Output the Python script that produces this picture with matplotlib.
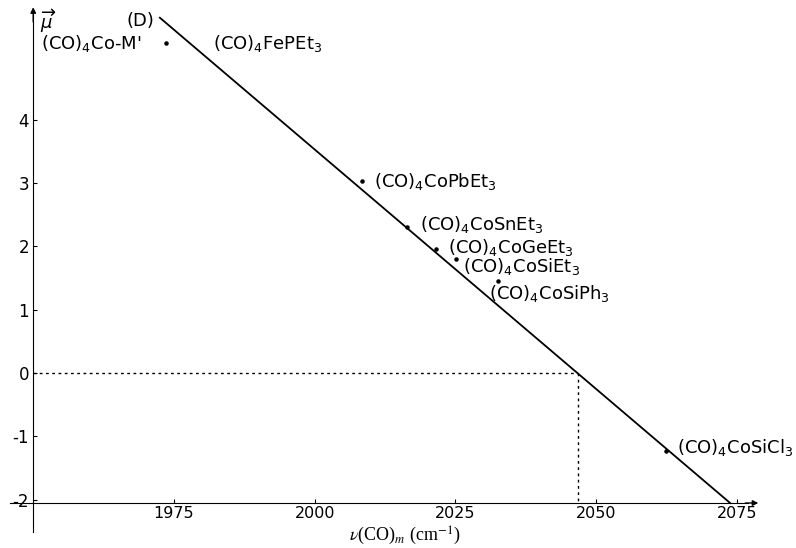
import matplotlib
matplotlib.use('Agg')
import matplotlib.pyplot as plt

plt.rcParams['font.family'] = ['DejaVu Sans']
plt.rcParams['mathtext.fontset'] = 'dejavusans'
plt.rcParams['axes.unicode_minus'] = False

# 数据
names = ["(CO)$_4$FePEt$_3$", "(CO)$_4$CoPbEt$_3$", "(CO)$_4$CoSnEt$_3$",
         "(CO)$_4$CoGeEt$_3$", "(CO)$_4$CoSiEt$_3$", "(CO)$_4$CoSiPh$_3$",
         "(CO)$_4$CoSiCl$_3$"]
nu = [1973.6, 2008.4, 2016.4, 2021.5, 2025.1, 2032.5, 2062.4]
mu = [5.21, 3.03, 2.31, 1.96, 1.80, 1.45, -1.23]

fit_nu = [1972.5, 2073.8]
fit_mu = [5.61, -2.05]
nu_zero = 2046.8

xticks = [1975, 2000, 2025, 2050, 2075]
yticks = [-2, -1, 0, 1, 2, 3, 4]

fig = plt.figure(figsize=(7.96, 5.48), dpi=100)
ax = fig.add_axes([0, 0, 1, 1])
ax.set_xlim(1944.1, 2085.5)
ax.set_ylim(-2.76, 5.89)

# 坐标轴
ax.spines['top'].set_visible(False)
ax.spines['right'].set_visible(False)
ax.spines['left'].set_position(('data', 1950))
ax.spines['bottom'].set_position(('data', -2.05))
ax.spines['left'].set_bounds(-2.5, 5.7)
ax.spines['bottom'].set_bounds(1945.9, 2077)
ax.annotate('', xy=(1950, 5.82), xytext=(1950, 5.5),
            arrowprops=dict(arrowstyle='-|>', color='black', lw=1, mutation_scale=8))
ax.annotate('', xy=(2079.3, -2.05), xytext=(2076, -2.05),
            arrowprops=dict(arrowstyle='-|>', color='black', lw=1, mutation_scale=8))

ax.set_xticks(xticks)
ax.set_yticks(yticks)
ax.tick_params(direction='in', length=3, width=0.8, labelsize=11.5)
ax.tick_params(axis='x', pad=2)
ax.tick_params(axis='y', pad=3, labelsize=12)

# 拟合直线和虚线
ax.plot(fit_nu, fit_mu, color='black', lw=1.3)
ax.plot([1950, nu_zero], [0, 0], color='black', lw=1, ls=(0, (2, 2.5)))
ax.plot([nu_zero, nu_zero], [0, -2.05], color='black', lw=1, ls=(0, (2, 2.5)))

ax.scatter(nu, mu, s=5, color='black', zorder=3)

label_pos = [(1981.9, 5.21), (2010.6, 3.03), (2018.7, 2.34), (2023.7, 1.98),
             (2026.3, 1.68), (2031.0, 1.26), (2064.3, -1.18)]
for name, (lx, ly) in zip(names, label_pos):
    ax.text(lx, ly, name, fontsize=13, ha='left', va='center')

ax.text(1951.2, 5.56, r"$\overrightarrow{\mu}$", fontsize=13, ha='left', va='center')
ax.text(1966.6, 5.56, "(D)", fontsize=13, ha='left', va='center')
ax.text(1951.4, 5.21, "(CO)$_4$Co-M'", fontsize=13, ha='left', va='center')

ax.text(2015.9, -2.745, r"$\nu$(CO)$_m$ (cm$^{-1}$)", fontsize=13, ha='center',
        va='bottom', family='Liberation Serif', math_fontfamily='stix')

fig.savefig('out.png', dpi=100)
